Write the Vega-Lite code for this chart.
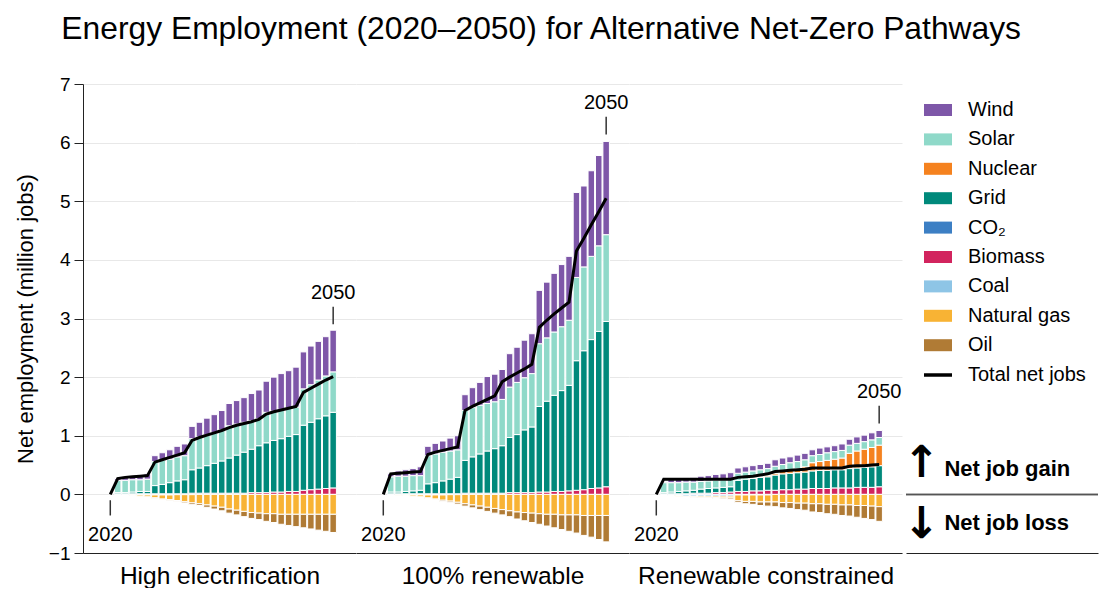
{
  "$schema": "https://vega.github.io/schema/vega-lite/v6.json",
  "padding": {"left": 14, "top": 14, "right": 4, "bottom": 0},
  "title": {"text": "Energy Employment (2020–2050) for Alternative Net-Zero Pathways", "fontSize": 31.8, "fontWeight": "normal", "color": "black", "anchor": "start", "dx": 47, "offset": 29},
  "config": {
    "font": "Liberation Sans",
    "view": {"stroke": null},
    "concat": {"spacing": 0},
    "axis": {"domainColor": "#222", "tickColor": "#222", "labelColor": "black", "titleColor": "black", "gridColor": "#e8e8e8", "labelFont": "Liberation Sans", "titleFont": "Liberation Sans"}
  },
  "datasets": {
    "jobs": [
      {"s":"HE","year":2020,"Total":0},
      {"s":"HE","year":2021,"Biomass":0.01,"Grid":0.02,"Solar":0.21,"Wind":0.03,"Coal":-0.01,"Total":0.27},
      {"s":"HE","year":2022,"Biomass":0.01,"Grid":0.02,"Solar":0.21,"Wind":0.06,"Coal":-0.01,"Total":0.29},
      {"s":"HE","year":2023,"Biomass":0.01,"Grid":0.03,"Solar":0.21,"Wind":0.06,"Coal":-0.01,"Natural gas":-0.01,"Total":0.30},
      {"s":"HE","year":2024,"Biomass":0.01,"Grid":0.04,"Solar":0.20,"Wind":0.08,"Coal":-0.01,"Natural gas":-0.02,"Total":0.31},
      {"s":"HE","year":2025,"Biomass":0.01,"Grid":0.04,"Solar":0.21,"Wind":0.09,"Coal":-0.01,"Natural gas":-0.03,"Total":0.32},
      {"s":"HE","year":2026,"Biomass":0.01,"Grid":0.14,"Solar":0.41,"Wind":0.10,"Coal":-0.01,"Natural gas":-0.05,"Oil":-0.005,"Total":0.55},
      {"s":"HE","year":2027,"Biomass":0.01,"Grid":0.16,"Solar":0.41,"Wind":0.13,"Coal":-0.01,"Natural gas":-0.07,"Oil":-0.01,"Total":0.59},
      {"s":"HE","year":2028,"Biomass":0.01,"Grid":0.19,"Solar":0.40,"Wind":0.16,"Coal":-0.01,"Natural gas":-0.08,"Oil":-0.01,"Total":0.63},
      {"s":"HE","year":2029,"Biomass":0.01,"Grid":0.22,"Solar":0.41,"Wind":0.18,"Coal":-0.005,"Natural gas":-0.10,"Oil":-0.015,"Total":0.67},
      {"s":"HE","year":2030,"Biomass":0.01,"Grid":0.24,"Solar":0.41,"Wind":0.20,"Coal":-0.005,"Natural gas":-0.12,"Oil":-0.02,"Total":0.71},
      {"s":"HE","year":2031,"Biomass":0.02,"Grid":0.40,"Solar":0.53,"Wind":0.21,"Coal":-0.005,"Natural gas":-0.14,"Oil":-0.03,"Total":0.92},
      {"s":"HE","year":2032,"Biomass":0.02,"Grid":0.43,"Solar":0.53,"Wind":0.25,"Natural gas":-0.16,"Oil":-0.03,"Total":0.97},
      {"s":"HE","year":2033,"Biomass":0.02,"Grid":0.47,"Solar":0.52,"Wind":0.29,"Natural gas":-0.18,"Oil":-0.04,"Total":1.01},
      {"s":"HE","year":2034,"Biomass":0.02,"Grid":0.51,"Solar":0.52,"Wind":0.31,"Natural gas":-0.20,"Oil":-0.05,"Total":1.05},
      {"s":"HE","year":2035,"Biomass":0.02,"Grid":0.55,"Solar":0.53,"Wind":0.33,"Natural gas":-0.22,"Oil":-0.06,"Total":1.09},
      {"s":"HE","year":2036,"Biomass":0.02,"Grid":0.60,"Solar":0.55,"Wind":0.38,"Natural gas":-0.25,"Oil":-0.07,"Total":1.14},
      {"s":"HE","year":2037,"Biomass":0.02,"Grid":0.65,"Solar":0.53,"Wind":0.40,"Natural gas":-0.27,"Oil":-0.08,"Total":1.18},
      {"s":"HE","year":2038,"Biomass":0.02,"Grid":0.70,"Solar":0.51,"Wind":0.42,"Natural gas":-0.29,"Oil":-0.09,"Total":1.21},
      {"s":"HE","year":2039,"Biomass":0.03,"Grid":0.74,"Solar":0.49,"Wind":0.46,"Natural gas":-0.31,"Oil":-0.10,"Total":1.24},
      {"s":"HE","year":2040,"Biomass":0.03,"Grid":0.80,"Solar":0.46,"Wind":0.49,"Natural gas":-0.32,"Oil":-0.11,"Total":1.28},
      {"s":"HE","year":2041,"Biomass":0.03,"Grid":0.85,"Solar":0.52,"Wind":0.53,"Natural gas":-0.33,"Oil":-0.13,"Total":1.37},
      {"s":"HE","year":2042,"Biomass":0.04,"Grid":0.88,"Solar":0.50,"Wind":0.58,"Natural gas":-0.33,"Oil":-0.15,"Total":1.41},
      {"s":"HE","year":2043,"Biomass":0.04,"Grid":0.91,"Solar":0.50,"Wind":0.61,"Natural gas":-0.34,"Oil":-0.17,"Total":1.44},
      {"s":"HE","year":2044,"Biomass":0.05,"Grid":0.94,"Solar":0.48,"Wind":0.64,"Natural gas":-0.34,"Oil":-0.19,"Total":1.47},
      {"s":"HE","year":2045,"Biomass":0.05,"Grid":0.97,"Solar":0.47,"Wind":0.68,"Natural gas":-0.34,"Oil":-0.21,"Total":1.50},
      {"s":"HE","year":2046,"Biomass":0.07,"Grid":1.11,"Solar":0.62,"Wind":0.63,"Natural gas":-0.34,"Oil":-0.23,"Total":1.74},
      {"s":"HE","year":2047,"Biomass":0.08,"Grid":1.15,"Solar":0.64,"Wind":0.66,"Natural gas":-0.34,"Oil":-0.25,"Total":1.81},
      {"s":"HE","year":2048,"Biomass":0.09,"Grid":1.20,"Solar":0.66,"Wind":0.66,"Natural gas":-0.34,"Oil":-0.27,"Total":1.88},
      {"s":"HE","year":2049,"Biomass":0.10,"Grid":1.24,"Solar":0.68,"Wind":0.67,"Natural gas":-0.34,"Oil":-0.29,"Total":1.95},
      {"s":"HE","year":2050,"Biomass":0.11,"Grid":1.29,"Solar":0.69,"Wind":0.71,"Natural gas":-0.34,"Oil":-0.31,"Total":2.01},

      {"s":"R100","year":2020,"Total":0},
      {"s":"R100","year":2021,"Biomass":0.01,"Grid":0.03,"Solar":0.26,"Wind":0.05,"Coal":-0.01,"Total":0.35},
      {"s":"R100","year":2022,"Biomass":0.01,"Grid":0.03,"Solar":0.27,"Wind":0.09,"Coal":-0.01,"Natural gas":-0.005,"Total":0.36},
      {"s":"R100","year":2023,"Biomass":0.01,"Grid":0.04,"Solar":0.26,"Wind":0.11,"Coal":-0.01,"Natural gas":-0.01,"Total":0.37},
      {"s":"R100","year":2024,"Biomass":0.01,"Grid":0.05,"Solar":0.26,"Wind":0.12,"Coal":-0.01,"Natural gas":-0.02,"Total":0.38},
      {"s":"R100","year":2025,"Biomass":0.01,"Grid":0.06,"Solar":0.25,"Wind":0.15,"Coal":-0.01,"Natural gas":-0.03,"Total":0.39},
      {"s":"R100","year":2026,"Biomass":0.01,"Grid":0.17,"Solar":0.48,"Wind":0.16,"Coal":-0.01,"Natural gas":-0.05,"Oil":-0.01,"Total":0.68},
      {"s":"R100","year":2027,"Biomass":0.01,"Grid":0.19,"Solar":0.49,"Wind":0.18,"Coal":-0.01,"Natural gas":-0.07,"Oil":-0.01,"Total":0.72},
      {"s":"R100","year":2028,"Biomass":0.01,"Grid":0.22,"Solar":0.49,"Wind":0.19,"Coal":-0.01,"Natural gas":-0.09,"Oil":-0.02,"Total":0.75},
      {"s":"R100","year":2029,"Biomass":0.01,"Grid":0.25,"Solar":0.48,"Wind":0.22,"Coal":-0.005,"Natural gas":-0.11,"Oil":-0.02,"Total":0.78},
      {"s":"R100","year":2030,"Biomass":0.01,"Grid":0.28,"Solar":0.47,"Wind":0.24,"Coal":-0.005,"Natural gas":-0.13,"Oil":-0.03,"Total":0.81},
      {"s":"R100","year":2031,"Biomass":0.02,"Grid":0.56,"Solar":0.85,"Wind":0.27,"Natural gas":-0.16,"Oil":-0.04,"Total":1.43},
      {"s":"R100","year":2032,"Biomass":0.02,"Grid":0.62,"Solar":0.84,"Wind":0.34,"Natural gas":-0.18,"Oil":-0.05,"Total":1.50},
      {"s":"R100","year":2033,"Biomass":0.02,"Grid":0.67,"Solar":0.83,"Wind":0.39,"Natural gas":-0.20,"Oil":-0.06,"Total":1.56},
      {"s":"R100","year":2034,"Biomass":0.02,"Grid":0.72,"Solar":0.81,"Wind":0.46,"Natural gas":-0.22,"Oil":-0.07,"Total":1.62},
      {"s":"R100","year":2035,"Biomass":0.02,"Grid":0.76,"Solar":0.80,"Wind":0.47,"Natural gas":-0.24,"Oil":-0.08,"Total":1.68},
      {"s":"R100","year":2036,"Biomass":0.02,"Grid":0.81,"Solar":0.79,"Wind":0.51,"Natural gas":-0.26,"Oil":-0.09,"Total":1.92},
      {"s":"R100","year":2037,"Biomass":0.03,"Grid":0.94,"Solar":0.86,"Wind":0.57,"Natural gas":-0.28,"Oil":-0.10,"Total":2.00},
      {"s":"R100","year":2038,"Biomass":0.03,"Grid":0.99,"Solar":0.89,"Wind":0.60,"Natural gas":-0.30,"Oil":-0.12,"Total":2.07},
      {"s":"R100","year":2039,"Biomass":0.03,"Grid":1.07,"Solar":0.89,"Wind":0.64,"Natural gas":-0.31,"Oil":-0.14,"Total":2.14},
      {"s":"R100","year":2040,"Biomass":0.03,"Grid":1.12,"Solar":0.91,"Wind":0.68,"Natural gas":-0.32,"Oil":-0.16,"Total":2.22},
      {"s":"R100","year":2041,"Biomass":0.04,"Grid":1.46,"Solar":1.07,"Wind":0.91,"Natural gas":-0.33,"Oil":-0.18,"Total":2.85},
      {"s":"R100","year":2042,"Biomass":0.04,"Grid":1.55,"Solar":1.08,"Wind":0.95,"Natural gas":-0.34,"Oil":-0.20,"Total":2.97},
      {"s":"R100","year":2043,"Biomass":0.05,"Grid":1.64,"Solar":1.08,"Wind":1.00,"Natural gas":-0.34,"Oil":-0.23,"Total":3.08},
      {"s":"R100","year":2044,"Biomass":0.05,"Grid":1.72,"Solar":1.09,"Wind":1.06,"Natural gas":-0.35,"Oil":-0.25,"Total":3.18},
      {"s":"R100","year":2045,"Biomass":0.06,"Grid":1.80,"Solar":1.11,"Wind":1.09,"Natural gas":-0.35,"Oil":-0.28,"Total":3.28},
      {"s":"R100","year":2046,"Biomass":0.07,"Grid":2.21,"Solar":1.42,"Wind":1.45,"Natural gas":-0.35,"Oil":-0.31,"Total":4.15},
      {"s":"R100","year":2047,"Biomass":0.08,"Grid":2.37,"Solar":1.43,"Wind":1.38,"Natural gas":-0.36,"Oil":-0.34,"Total":4.37},
      {"s":"R100","year":2048,"Biomass":0.10,"Grid":2.54,"Solar":1.42,"Wind":1.46,"Natural gas":-0.36,"Oil":-0.37,"Total":4.60},
      {"s":"R100","year":2049,"Biomass":0.11,"Grid":2.67,"Solar":1.46,"Wind":1.54,"Natural gas":-0.36,"Oil":-0.41,"Total":4.82},
      {"s":"R100","year":2050,"Biomass":0.13,"Grid":2.82,"Solar":1.48,"Wind":1.59,"Natural gas":-0.36,"Oil":-0.45,"Total":5.05},

      {"s":"RC","year":2020,"Total":0},
      {"s":"RC","year":2021,"Biomass":0.01,"Grid":0.02,"Solar":0.17,"Wind":0.02,"Coal":-0.01,"Total":0.26},
      {"s":"RC","year":2022,"Biomass":0.01,"Grid":0.03,"Solar":0.16,"Wind":0.06,"Coal":-0.02,"Natural gas":-0.005,"Total":0.26},
      {"s":"RC","year":2023,"Biomass":0.01,"Grid":0.04,"Solar":0.15,"Wind":0.07,"Coal":-0.02,"Natural gas":-0.01,"Total":0.26},
      {"s":"RC","year":2024,"Biomass":0.01,"Grid":0.05,"Solar":0.15,"Wind":0.07,"Coal":-0.03,"Natural gas":-0.01,"Total":0.26},
      {"s":"RC","year":2025,"Biomass":0.02,"Grid":0.05,"Solar":0.14,"Wind":0.08,"Coal":-0.03,"Natural gas":-0.015,"Oil":-0.005,"Total":0.26},
      {"s":"RC","year":2026,"Biomass":0.02,"Grid":0.07,"Solar":0.13,"Wind":0.09,"Coal":-0.03,"Natural gas":-0.02,"Oil":-0.01,"Total":0.26},
      {"s":"RC","year":2027,"Biomass":0.02,"Grid":0.08,"Solar":0.13,"Wind":0.09,"Coal":-0.03,"Natural gas":-0.02,"Oil":-0.01,"Total":0.26},
      {"s":"RC","year":2028,"Biomass":0.03,"Grid":0.08,"Solar":0.13,"Wind":0.10,"Coal":-0.03,"Natural gas":-0.025,"Oil":-0.015,"Total":0.26},
      {"s":"RC","year":2029,"Biomass":0.03,"Grid":0.09,"Solar":0.13,"Wind":0.10,"Coal":-0.03,"Natural gas":-0.03,"Oil":-0.015,"Total":0.26},
      {"s":"RC","year":2030,"Biomass":0.04,"Grid":0.09,"Solar":0.13,"Wind":0.11,"Coal":-0.03,"Natural gas":-0.03,"Oil":-0.02,"Total":0.26},
      {"s":"RC","year":2031,"Biomass":0.05,"Grid":0.19,"Solar":0.12,"Wind":0.09,"Coal":-0.01,"Natural gas":-0.10,"Oil":-0.03,"Total":0.29},
      {"s":"RC","year":2032,"Biomass":0.05,"Grid":0.21,"Solar":0.12,"Wind":0.09,"Coal":-0.01,"Natural gas":-0.11,"Oil":-0.04,"Total":0.30},
      {"s":"RC","year":2033,"Biomass":0.06,"Grid":0.21,"Nuclear":0.01,"Solar":0.12,"Wind":0.09,"Coal":-0.01,"Natural gas":-0.11,"Oil":-0.05,"Total":0.31},
      {"s":"RC","year":2034,"Biomass":0.06,"Grid":0.23,"Nuclear":0.01,"Solar":0.12,"Wind":0.09,"Coal":-0.01,"Natural gas":-0.12,"Oil":-0.06,"Total":0.33},
      {"s":"RC","year":2035,"Biomass":0.07,"Grid":0.23,"Nuclear":0.02,"Solar":0.12,"Wind":0.09,"Coal":-0.01,"Natural gas":-0.12,"Oil":-0.07,"Total":0.35},
      {"s":"RC","year":2036,"Biomass":0.07,"Grid":0.26,"Nuclear":0.03,"Solar":0.12,"Wind":0.11,"Natural gas":-0.13,"Oil":-0.08,"Total":0.39},
      {"s":"RC","year":2037,"Biomass":0.08,"Grid":0.27,"Nuclear":0.04,"Solar":0.12,"Wind":0.11,"Natural gas":-0.14,"Oil":-0.09,"Total":0.40},
      {"s":"RC","year":2038,"Biomass":0.08,"Grid":0.28,"Nuclear":0.06,"Solar":0.12,"Wind":0.10,"Natural gas":-0.14,"Oil":-0.10,"Total":0.41},
      {"s":"RC","year":2039,"Biomass":0.09,"Grid":0.28,"Nuclear":0.07,"Solar":0.12,"Wind":0.11,"Natural gas":-0.15,"Oil":-0.11,"Total":0.42},
      {"s":"RC","year":2040,"Biomass":0.09,"Grid":0.29,"Nuclear":0.09,"Solar":0.12,"Wind":0.11,"Natural gas":-0.15,"Oil":-0.12,"Total":0.43},
      {"s":"RC","year":2041,"Biomass":0.10,"Grid":0.30,"Nuclear":0.14,"Solar":0.12,"Wind":0.10,"Natural gas":-0.16,"Oil":-0.14,"Total":0.45},
      {"s":"RC","year":2042,"Biomass":0.10,"Grid":0.31,"Nuclear":0.15,"Solar":0.12,"Wind":0.11,"Natural gas":-0.16,"Oil":-0.15,"Total":0.45},
      {"s":"RC","year":2043,"Biomass":0.10,"Grid":0.31,"Nuclear":0.17,"Solar":0.13,"Wind":0.10,"Natural gas":-0.17,"Oil":-0.16,"Total":0.45},
      {"s":"RC","year":2044,"Biomass":0.11,"Grid":0.31,"Nuclear":0.18,"Solar":0.13,"Wind":0.10,"Natural gas":-0.17,"Oil":-0.17,"Total":0.45},
      {"s":"RC","year":2045,"Biomass":0.11,"Grid":0.31,"Nuclear":0.20,"Solar":0.13,"Wind":0.11,"Natural gas":-0.18,"Oil":-0.18,"Total":0.45},
      {"s":"RC","year":2046,"Biomass":0.11,"Grid":0.33,"Nuclear":0.26,"Solar":0.14,"Wind":0.10,"Natural gas":-0.18,"Oil":-0.19,"Total":0.48},
      {"s":"RC","year":2047,"Biomass":0.12,"Grid":0.33,"Nuclear":0.29,"Solar":0.13,"Wind":0.11,"Natural gas":-0.19,"Oil":-0.20,"Total":0.49},
      {"s":"RC","year":2048,"Biomass":0.12,"Grid":0.34,"Nuclear":0.31,"Solar":0.13,"Wind":0.11,"Natural gas":-0.19,"Oil":-0.22,"Total":0.49},
      {"s":"RC","year":2049,"Biomass":0.12,"Grid":0.35,"Nuclear":0.33,"Solar":0.13,"Wind":0.12,"Natural gas":-0.20,"Oil":-0.23,"Total":0.50},
      {"s":"RC","year":2050,"Biomass":0.13,"Grid":0.36,"Nuclear":0.35,"Solar":0.13,"Wind":0.12,"Natural gas":-0.21,"Oil":-0.25,"Total":0.51}
    ],
    "ann": [
      {"s":"HE","year":2020,"y1":-0.10,"y2":-0.36,"ty":-0.70,"label":"2020"},
      {"s":"HE","year":2050,"y1":2.90,"y2":3.20,"ty":3.44,"label":"2050"},
      {"s":"R100","year":2020,"y1":-0.10,"y2":-0.36,"ty":-0.70,"label":"2020"},
      {"s":"R100","year":2050,"y1":6.14,"y2":6.44,"ty":6.68,"label":"2050"},
      {"s":"RC","year":2020,"y1":-0.10,"y2":-0.36,"ty":-0.70,"label":"2020"},
      {"s":"RC","year":2050,"y1":1.21,"y2":1.51,"ty":1.75,"label":"2050"}
    ],
    "arrows": [
      {"glyph":"↑","label":"Net job gain","gy":0.51,"ly":0.43},
      {"glyph":"↓","label":"Net job loss","gy":-0.53,"ly":-0.49}
    ]
  },
  "hconcat": [
    {
      "width": 273, "height": 469,
      "layer": [
        {"data": {"name": "jobs"}, "transform": [{"filter": "datum.s === 'HE'"}, {"fold": ["Biomass","Grid","Nuclear","Solar","Wind","Coal","Natural gas","Oil"], "as": ["category","value"]}, {"filter": "isValid(datum.value) && datum.value !== 0"}],
         "mark": {"type": "bar", "width": 6.5, "stroke": "white", "strokeWidth": 1},
         "encoding": {
           "x": {"field": "year", "type": "quantitative", "scale": {"domain": [2017, 2052.4], "nice": false, "zero": false}, "axis": {"domain": true, "ticks": false, "labels": false, "grid": false, "title": "High electrification", "titleFontSize": 24.5, "titleFontWeight": "normal", "titlePadding": 11}},
           "y": {"field": "value", "type": "quantitative", "stack": "zero", "scale": {"domain": [-1, 7], "nice": false}, "axis": {"values": [-1,0,1,2,3,4,5,6,7], "format": "d", "title": "Net employment (million jobs)", "titleFontSize": 22, "titleFontWeight": "normal", "titlePadding": 11, "labelFontSize": 19, "tickSize": 9, "labelPadding": 4, "grid": true}},
           "color": {"field": "category", "type": "nominal", "scale": {"domain": ["Wind","Solar","Nuclear","Grid","CO₂","Biomass","Coal","Natural gas","Oil"], "range": ["#7e57a8","#8fd9c9","#f5821f","#00897b","#3c7fc4","#d2245e","#8ec5e6","#f8b334","#b07b35"]}, "legend": {"orient": "none", "legendX": 837, "legendY": 16, "title": null, "symbolType": "M-1,-1H3.667V1H-1Z", "symbolSize": 144, "symbolStrokeWidth": 0, "labelFontSize": 20, "labelColor": "black", "labelOffset": 28, "rowPadding": 9.4}},
           "order": {"field": "category", "sort": "ascending"}
         }},
        {"mark": {"type": "rule", "color": "#555", "strokeWidth": 1.5}, "encoding": {"y": {"datum": 0, "type": "quantitative", "scale": {"domain": [-1, 7], "nice": false}}}},
        {"data": {"name": "jobs"}, "transform": [{"filter": "datum.s === 'HE'"}],
         "mark": {"type": "line", "strokeWidth": 3},
         "encoding": {
           "x": {"field": "year", "type": "quantitative", "scale": {"domain": [2017, 2052.4], "nice": false, "zero": false}},
           "y": {"field": "Total", "type": "quantitative", "scale": {"domain": [-1, 7], "nice": false}},
           "stroke": {"datum": "Total net jobs", "type": "nominal", "scale": {"range": ["black"]}, "legend": {"orient": "none", "legendX": 837, "legendY": 281, "title": null, "symbolType": "M-1,0H3.667", "symbolSize": 144, "symbolStrokeWidth": 3.5, "labelFontSize": 20, "labelColor": "black", "labelOffset": 28}}
         }},
        {"data": {"name": "ann"}, "transform": [{"filter": "datum.s === 'HE'"}],
         "mark": {"type": "rule", "color": "#333", "strokeWidth": 1.5},
         "encoding": {"x": {"field": "year", "type": "quantitative"}, "y": {"field": "y1", "type": "quantitative"}, "y2": {"field": "y2"}}},
        {"data": {"name": "ann"}, "transform": [{"filter": "datum.s === 'HE'"}],
         "mark": {"type": "text", "fontSize": 20, "color": "black"},
         "encoding": {"x": {"field": "year", "type": "quantitative"}, "y": {"field": "ty", "type": "quantitative"}, "text": {"field": "label"}}}
      ]
    },
    {
      "width": 273, "height": 469,
      "layer": [
        {"data": {"name": "jobs"}, "transform": [{"filter": "datum.s === 'R100'"}, {"fold": ["Biomass","Grid","Nuclear","Solar","Wind","Coal","Natural gas","Oil"], "as": ["category","value"]}, {"filter": "isValid(datum.value) && datum.value !== 0"}],
         "mark": {"type": "bar", "width": 6.5, "stroke": "white", "strokeWidth": 1},
         "encoding": {
           "x": {"field": "year", "type": "quantitative", "scale": {"domain": [2017, 2052.4], "nice": false, "zero": false}, "axis": {"domain": true, "ticks": false, "labels": false, "grid": false, "title": "100% renewable", "titleFontSize": 24.5, "titleFontWeight": "normal", "titlePadding": 11}},
           "y": {"field": "value", "type": "quantitative", "stack": "zero", "scale": {"domain": [-1, 7], "nice": false}, "axis": {"values": [-1,0,1,2,3,4,5,6,7], "domain": false, "ticks": false, "labels": false, "title": null, "grid": true}},
           "color": {"field": "category", "type": "nominal", "scale": {"domain": ["Wind","Solar","Nuclear","Grid","CO₂","Biomass","Coal","Natural gas","Oil"], "range": ["#7e57a8","#8fd9c9","#f5821f","#00897b","#3c7fc4","#d2245e","#8ec5e6","#f8b334","#b07b35"]}, "legend": {"orient": "none", "legendX": 837, "legendY": 16, "title": null, "symbolType": "M-1,-1H3.667V1H-1Z", "symbolSize": 144, "symbolStrokeWidth": 0, "labelFontSize": 20, "labelColor": "black", "labelOffset": 28, "rowPadding": 9.4}},
           "order": {"field": "category", "sort": "ascending"}
         }},
        {"mark": {"type": "rule", "color": "#555", "strokeWidth": 1.5}, "encoding": {"y": {"datum": 0, "type": "quantitative", "scale": {"domain": [-1, 7], "nice": false}}}},
        {"data": {"name": "jobs"}, "transform": [{"filter": "datum.s === 'R100'"}],
         "mark": {"type": "line", "strokeWidth": 3},
         "encoding": {
           "x": {"field": "year", "type": "quantitative", "scale": {"domain": [2017, 2052.4], "nice": false, "zero": false}},
           "y": {"field": "Total", "type": "quantitative", "scale": {"domain": [-1, 7], "nice": false}},
           "stroke": {"datum": "Total net jobs", "type": "nominal", "scale": {"range": ["black"]}, "legend": {"orient": "none", "legendX": 837, "legendY": 281, "title": null, "symbolType": "M-1,0H3.667", "symbolSize": 144, "symbolStrokeWidth": 3.5, "labelFontSize": 20, "labelColor": "black", "labelOffset": 28}}
         }},
        {"data": {"name": "ann"}, "transform": [{"filter": "datum.s === 'R100'"}],
         "mark": {"type": "rule", "color": "#333", "strokeWidth": 1.5},
         "encoding": {"x": {"field": "year", "type": "quantitative"}, "y": {"field": "y1", "type": "quantitative"}, "y2": {"field": "y2"}}},
        {"data": {"name": "ann"}, "transform": [{"filter": "datum.s === 'R100'"}],
         "mark": {"type": "text", "fontSize": 20, "color": "black"},
         "encoding": {"x": {"field": "year", "type": "quantitative"}, "y": {"field": "ty", "type": "quantitative"}, "text": {"field": "label"}}}
      ]
    },
    {
      "width": 273, "height": 469,
      "layer": [
        {"data": {"name": "jobs"}, "transform": [{"filter": "datum.s === 'RC'"}, {"fold": ["Biomass","Grid","Nuclear","Solar","Wind","Coal","Natural gas","Oil"], "as": ["category","value"]}, {"filter": "isValid(datum.value) && datum.value !== 0"}],
         "mark": {"type": "bar", "width": 6.5, "stroke": "white", "strokeWidth": 1},
         "encoding": {
           "x": {"field": "year", "type": "quantitative", "scale": {"domain": [2017, 2052.4], "nice": false, "zero": false}, "axis": {"domain": true, "ticks": false, "labels": false, "grid": false, "title": "Renewable constrained", "titleFontSize": 24.5, "titleFontWeight": "normal", "titlePadding": 11}},
           "y": {"field": "value", "type": "quantitative", "stack": "zero", "scale": {"domain": [-1, 7], "nice": false}, "axis": {"values": [-1,0,1,2,3,4,5,6,7], "domain": false, "ticks": false, "labels": false, "title": null, "grid": true}},
           "color": {"field": "category", "type": "nominal", "scale": {"domain": ["Wind","Solar","Nuclear","Grid","CO₂","Biomass","Coal","Natural gas","Oil"], "range": ["#7e57a8","#8fd9c9","#f5821f","#00897b","#3c7fc4","#d2245e","#8ec5e6","#f8b334","#b07b35"]}, "legend": {"orient": "none", "legendX": 837, "legendY": 16, "title": null, "symbolType": "M-1,-1H3.667V1H-1Z", "symbolSize": 144, "symbolStrokeWidth": 0, "labelFontSize": 20, "labelColor": "black", "labelOffset": 28, "rowPadding": 9.4}},
           "order": {"field": "category", "sort": "ascending"}
         }},
        {"mark": {"type": "rule", "color": "#555", "strokeWidth": 1.5}, "encoding": {"y": {"datum": 0, "type": "quantitative", "scale": {"domain": [-1, 7], "nice": false}}}},
        {"data": {"name": "jobs"}, "transform": [{"filter": "datum.s === 'RC'"}],
         "mark": {"type": "line", "strokeWidth": 3},
         "encoding": {
           "x": {"field": "year", "type": "quantitative", "scale": {"domain": [2017, 2052.4], "nice": false, "zero": false}},
           "y": {"field": "Total", "type": "quantitative", "scale": {"domain": [-1, 7], "nice": false}},
           "stroke": {"datum": "Total net jobs", "type": "nominal", "scale": {"range": ["black"]}, "legend": {"orient": "none", "legendX": 837, "legendY": 281, "title": null, "symbolType": "M-1,0H3.667", "symbolSize": 144, "symbolStrokeWidth": 3.5, "labelFontSize": 20, "labelColor": "black", "labelOffset": 28}}
         }},
        {"data": {"name": "ann"}, "transform": [{"filter": "datum.s === 'RC'"}],
         "mark": {"type": "rule", "color": "#333", "strokeWidth": 1.5},
         "encoding": {"x": {"field": "year", "type": "quantitative"}, "y": {"field": "y1", "type": "quantitative"}, "y2": {"field": "y2"}}},
        {"data": {"name": "ann"}, "transform": [{"filter": "datum.s === 'RC'"}],
         "mark": {"type": "text", "fontSize": 20, "color": "black"},
         "encoding": {"x": {"field": "year", "type": "quantitative"}, "y": {"field": "ty", "type": "quantitative"}, "text": {"field": "label"}}}
      ]
    },
    {
      "width": 192, "height": 469,
      "data": {"name": "arrows"},
      "layer": [
        {"mark": {"type": "rule", "color": "#555", "strokeWidth": 1.5}, "encoding": {"y": {"datum": 0, "type": "quantitative", "scale": {"domain": [-1, 7], "nice": false}, "axis": null}}},
        {"mark": {"type": "text", "font": "DejaVu Sans", "fontSize": 44, "fontWeight": "bold", "color": "black"},
         "encoding": {"x": {"datum": 0.08, "type": "quantitative", "scale": {"domain": [0, 1], "nice": false}, "axis": {"domain": true, "ticks": false, "labels": false, "grid": false, "title": null}}, "y": {"field": "gy", "type": "quantitative", "scale": {"domain": [-1, 7], "nice": false}, "axis": null}, "text": {"field": "glyph"}}},
        {"mark": {"type": "text", "fontSize": 22, "fontWeight": "bold", "color": "black", "align": "left"},
         "encoding": {"x": {"datum": 0.2, "type": "quantitative"}, "y": {"field": "ly", "type": "quantitative", "scale": {"domain": [-1, 7], "nice": false}, "axis": null}, "text": {"field": "label"}}}
      ]
    }
  ]
}
